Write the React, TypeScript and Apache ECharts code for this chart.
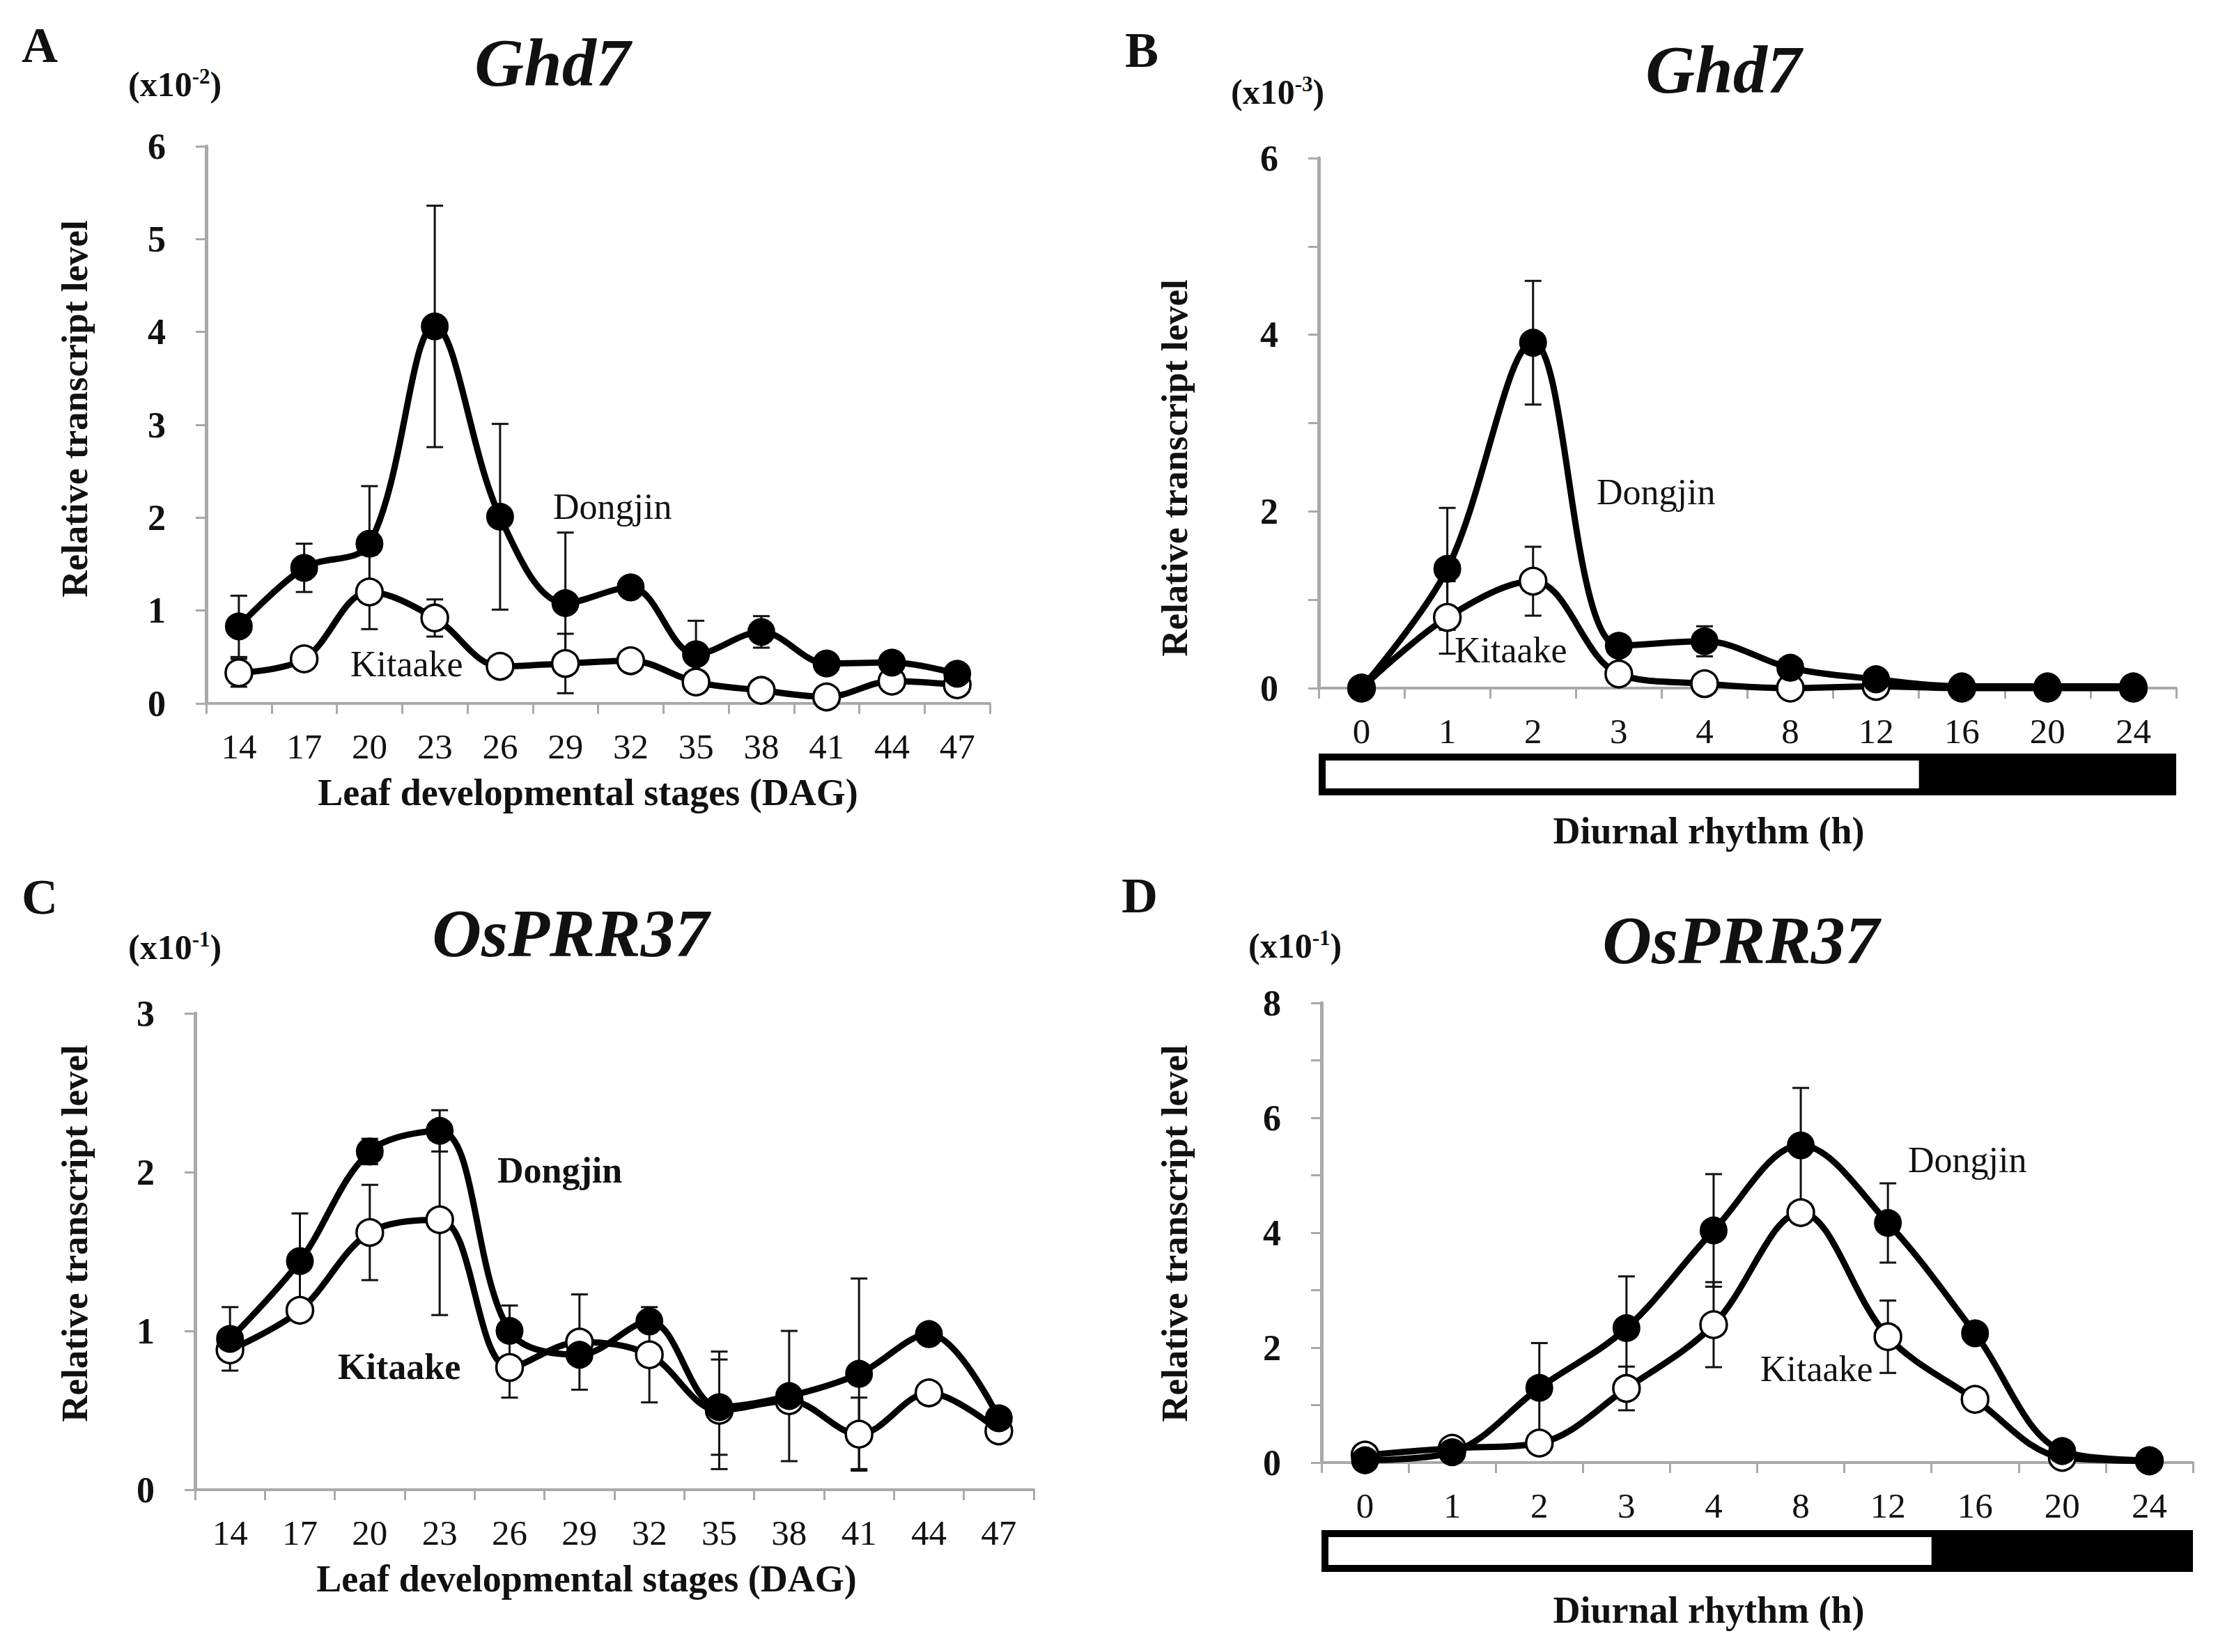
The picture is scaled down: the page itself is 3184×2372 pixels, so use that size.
import React, { useEffect, useRef } from 'react';
import * as echarts from 'echarts';

// ---- categories ----
const dagStages = ['14', '17', '20', '23', '26', '29', '32', '35', '38', '41', '44', '47'];
const diurnalHours = ['0', '1', '2', '3', '4', '8', '12', '16', '20', '24'];
// lights go off at 14 h, i.e. after 7 of the 10 sampling slots
const lightSlots = 7;

// ---- Ghd7, leaf developmental stages (x10^-2) ----
const ghd7LeafDongjin = [0.83, 1.46, 1.72, 4.06, 2.01, 1.08, 1.25, 0.53, 0.77, 0.43, 0.44, 0.32];
const ghd7LeafDongjinErr = [0.33, 0.26, 0.62, 1.3, 1.0, 0.76, 0.05, 0.36, 0.17, 0.05, 0.05, 0.05];
const ghd7LeafKitaake = [0.33, 0.48, 1.2, 0.92, 0.4, 0.43, 0.46, 0.23, 0.14, 0.07, 0.24, 0.2];
const ghd7LeafKitaakeErr = [0.15, 0.04, 0.4, 0.2, 0.04, 0.32, 0.04, 0.04, 0.04, 0.04, 0.04, 0.04];

// ---- Ghd7, diurnal rhythm (x10^-3) ----
const ghd7DayDongjin = [0.0, 1.35, 3.91, 0.48, 0.53, 0.23, 0.1, 0.02, 0.02, 0.02];
const ghd7DayDongjinErr = [0.02, 0.69, 0.7, 0.08, 0.17, 0.05, 0.03, 0.01, 0.01, 0.01];
const ghd7DayKitaake = [0.0, 0.8, 1.21, 0.16, 0.05, 0.0, 0.02, 0.0, 0.0, 0.0];
const ghd7DayKitaakeErr = [0.01, 0.41, 0.39, 0.03, 0.02, 0.01, 0.01, 0.0, 0.0, 0.0];

// ---- OsPRR37, leaf developmental stages (x10^-1) ----
const prrLeafDongjin = [0.95, 1.44, 2.13, 2.26, 1.0, 0.85, 1.06, 0.52, 0.59, 0.73, 0.98, 0.45];
const prrLeafDongjinErr = [0.2, 0.3, 0.08, 0.13, 0.16, 0.05, 0.05, 0.3, 0.41, 0.6, 0.05, 0.05];
const prrLeafKitaake = [0.88, 1.13, 1.62, 1.7, 0.77, 0.93, 0.85, 0.5, 0.56, 0.35, 0.61, 0.37];
const prrLeafKitaakeErr = [0.05, 0.05, 0.3, 0.6, 0.19, 0.3, 0.3, 0.37, 0.05, 0.23, 0.06, 0.05];

// ---- OsPRR37, diurnal rhythm (x10^-1) ----
const prrDayDongjin = [0.04, 0.18, 1.3, 2.34, 4.04, 5.52, 4.17, 2.25, 0.2, 0.04];
const prrDayDongjinErr = [0.03, 0.05, 0.78, 0.9, 0.98, 1.0, 0.69, 0.08, 0.05, 0.02];
const prrDayKitaake = [0.13, 0.25, 0.34, 1.29, 2.4, 4.35, 2.19, 1.1, 0.09, 0.03];
const prrDayKitaakeErr = [0.03, 0.04, 0.05, 0.38, 0.74, 0.08, 0.63, 0.05, 0.04, 0.01];

const FONT = '"Liberation Serif", "Times New Roman", Times, serif';
const INK = '#111111';
const AXIS_GREY = '#a9a9a9';

type Box = { left: number; top: number; width: number; height: number };

type Panel = {
  box: Box;
  categories: string[];
  yMax: number;
  labelEvery: number;
  dongjin: number[];
  dongjinErr: number[];
  kitaake: number[];
  kitaakeErr: number[];
};

const panels: Panel[] = [
  {
    box: { left: 296, top: 210, width: 1125, height: 800 },
    categories: dagStages, yMax: 6, labelEvery: 1,
    dongjin: ghd7LeafDongjin, dongjinErr: ghd7LeafDongjinErr,
    kitaake: ghd7LeafKitaake, kitaakeErr: ghd7LeafKitaakeErr,
  },
  {
    box: { left: 1893, top: 227, width: 1231, height: 761 },
    categories: diurnalHours, yMax: 6, labelEvery: 2,
    dongjin: ghd7DayDongjin, dongjinErr: ghd7DayDongjinErr,
    kitaake: ghd7DayKitaake, kitaakeErr: ghd7DayKitaakeErr,
  },
  {
    box: { left: 280, top: 1455, width: 1204, height: 684 },
    categories: dagStages, yMax: 3, labelEvery: 1,
    dongjin: prrLeafDongjin, dongjinErr: prrLeafDongjinErr,
    kitaake: prrLeafKitaake, kitaakeErr: prrLeafKitaakeErr,
  },
  {
    box: { left: 1897, top: 1440, width: 1251, height: 660 },
    categories: diurnalHours, yMax: 8, labelEvery: 2,
    dongjin: prrDayDongjin, dongjinErr: prrDayDongjinErr,
    kitaake: prrDayKitaake, kitaakeErr: prrDayKitaakeErr,
  },
];

const CAP = 12;

function errorBars(gridIdx: number, values: number[], errs: number[], z: number) {
  return {
    type: 'custom',
    xAxisIndex: gridIdx,
    yAxisIndex: gridIdx,
    z,
    silent: true,
    clip: false,
    data: values.map((v, k) => [k, v, errs[k]]),
    encode: { x: 0, y: 1 },
    renderItem: (_params: any, api: any) => {
      const idx = api.value(0);
      const v = api.value(1);
      const e = api.value(2);
      const hi = api.coord([idx, v + e]);
      const lo = api.coord([idx, Math.max(0, v - e)]);
      const style = { stroke: INK, lineWidth: 3 };
      return {
        type: 'group',
        children: [
          { type: 'line', shape: { x1: hi[0], y1: hi[1], x2: lo[0], y2: lo[1] }, style },
          { type: 'line', shape: { x1: hi[0] - CAP, y1: hi[1], x2: hi[0] + CAP, y2: hi[1] }, style },
          { type: 'line', shape: { x1: lo[0] - CAP, y1: lo[1], x2: lo[0] + CAP, y2: lo[1] }, style },
        ],
      };
    },
  };
}

function lineSeries(gridIdx: number, values: number[], filled: boolean, z: number) {
  return {
    type: 'line',
    xAxisIndex: gridIdx,
    yAxisIndex: gridIdx,
    data: values,
    smooth: 0.35,
    symbol: 'circle',
    symbolSize: 38,
    z,
    clip: false,
    silent: true,
    lineStyle: { color: '#000000', width: 9 },
    itemStyle: filled
      ? { color: '#000000', borderColor: '#000000', borderWidth: 2 }
      : { color: '#ffffff', borderColor: '#000000', borderWidth: 3.5 },
  };
}

function text(x: number, y: number, content: string, extra: any = {}, rotation = 0) {
  return {
    type: 'text',
    x,
    y,
    rotation,
    silent: true,
    style: {
      text: content,
      fontFamily: FONT,
      fontSize: 52,
      fill: INK,
      align: 'center',
      verticalAlign: 'middle',
      textAlign: 'center',
      textVerticalAlign: 'middle',
      ...extra,
    },
  };
}

function multiplier(x: number, y: number, exp: string) {
  return {
    type: 'text',
    x,
    y,
    silent: true,
    style: {
      text: `{b|(x10}{s|${exp}}{b|)}`,
      fill: INK,
      align: 'left',
      verticalAlign: 'middle',
      textAlign: 'left',
      textVerticalAlign: 'middle',
      rich: {
        b: { fontFamily: FONT, fontSize: 50, fontWeight: 'bold', fill: INK, lineHeight: 54 },
        s: { fontFamily: FONT, fontSize: 31, fontWeight: 'bold', fill: INK, verticalAlign: 'top', lineHeight: 54 },
      },
    },
  };
}

// light (white) / dark (black) bar drawn under a diurnal x axis
function photoperiodBar(box: Box, barTop: number) {
  const h = 60;
  const border = 10;
  const lightW = (box.width * lightSlots) / diurnalHours.length;
  return [
    { type: 'rect', silent: true, shape: { x: box.left, y: barTop, width: box.width, height: h }, style: { fill: '#000000' } },
    {
      type: 'rect', silent: true,
      shape: { x: box.left + border, y: barTop + border, width: lightW - border, height: h - 2 * border },
      style: { fill: '#ffffff' },
    },
  ];
}

function buildOption() {
  const bold = { fontWeight: 'bold', fontSize: 53 };
  const titleStyle = { fontSize: 98, fontWeight: 'bold', fontStyle: 'italic' };
  const letterStyle = { fontSize: 72, fontWeight: 'bold', align: 'left', textAlign: 'left' };
  const strainStyle = { fontSize: 52, align: 'left', textAlign: 'left' };
  const strainBold = { ...strainStyle, fontWeight: 'bold' };

  const series: any[] = [];
  panels.forEach((p, i) => {
    series.push(errorBars(i, p.kitaake, p.kitaakeErr, 2));
    series.push(errorBars(i, p.dongjin, p.dongjinErr, 2));
    series.push(lineSeries(i, p.kitaake, false, 3));
    series.push(lineSeries(i, p.dongjin, true, 4));
  });

  const graphic: any[] = [
    // panel letters
    text(31, 65, 'A', letterStyle),
    text(1615, 72, 'B', letterStyle),
    text(31, 1288, 'C', letterStyle),
    text(1610, 1286, 'D', letterStyle),
    // gene titles
    text(793, 90, 'Ghd7', titleStyle),
    text(2474, 100, 'Ghd7', titleStyle),
    text(819, 1340, 'OsPRR37', titleStyle),
    text(2499, 1350, 'OsPRR37', titleStyle),
    // scale factors
    multiplier(184, 121, '-2'),
    multiplier(1767, 132, '-3'),
    multiplier(184, 1360, '-1'),
    multiplier(1792, 1358, '-1'),
    // y-axis titles
    text(107, 587, 'Relative transcript level', bold, Math.PI / 2),
    text(1686, 672, 'Relative transcript level', bold, Math.PI / 2),
    text(107, 1771, 'Relative transcript level', bold, Math.PI / 2),
    text(1686, 1771, 'Relative transcript level', bold, Math.PI / 2),
    // x-axis titles
    text(844, 1138, 'Leaf developmental stages (DAG)', { ...bold, fontSize: 54 }),
    text(2453, 1193, 'Diurnal rhythm (h)', { ...bold, fontSize: 54 }),
    text(842, 2267, 'Leaf developmental stages (DAG)', { ...bold, fontSize: 54 }),
    text(2453, 2312, 'Diurnal rhythm (h)', { ...bold, fontSize: 54 }),
    // cultivar labels
    text(794, 727, 'Dongjin', strainStyle),
    text(503, 953, 'Kitaake', strainStyle),
    text(2292, 706, 'Dongjin', strainStyle),
    text(2088, 933, 'Kitaake', strainStyle),
    text(714, 1680, 'Dongjin', strainBold),
    text(485, 1962, 'Kitaake', strainBold),
    text(2739, 1665, 'Dongjin', strainStyle),
    text(2527, 1965, 'Kitaake', strainStyle),
    // photoperiod bars
    ...photoperiodBar(panels[1].box, 1082),
    ...photoperiodBar(panels[3].box, 2197),
  ];

  return {
    animation: false,
    backgroundColor: '#ffffff',
    grid: panels.map((p) => ({ ...p.box, containLabel: false })),
    xAxis: panels.map((p, i) => ({
      type: 'category',
      gridIndex: i,
      data: p.categories,
      boundaryGap: true,
      axisLine: { show: true, lineStyle: { color: AXIS_GREY, width: 4 } },
      axisTick: { show: true, length: 15, lineStyle: { color: AXIS_GREY, width: 3 } },
      axisLabel: { fontFamily: FONT, fontSize: 51, color: INK, margin: 36 },
      splitLine: { show: false },
    })),
    yAxis: panels.map((p, i) => ({
      type: 'value',
      gridIndex: i,
      min: 0,
      max: p.yMax,
      interval: 1,
      axisLine: { show: true, lineStyle: { color: AXIS_GREY, width: 5 } },
      axisTick: { show: true, length: 15, lineStyle: { color: AXIS_GREY, width: 3 } },
      axisLabel: {
        fontFamily: FONT,
        fontSize: 52,
        fontWeight: 'bold',
        color: INK,
        margin: 58,
        formatter: (v: number) => (v % p.labelEvery === 0 ? String(v) : ''),
      },
      splitLine: { show: false },
    })),
    series,
    graphic,
  };
}

export default function App() {
  const ref = useRef<HTMLDivElement>(null);

  useEffect(() => {
    if (!ref.current) return;
    const chart = echarts.init(ref.current, undefined, { renderer: 'svg' });
    chart.setOption(buildOption() as any);
    return () => chart.dispose();
  }, []);

  return (
    <div
      ref={ref}
      style={{ position: 'fixed', left: 0, top: 0, width: 3184, height: 2372, background: '#ffffff' }}
    />
  );
}
